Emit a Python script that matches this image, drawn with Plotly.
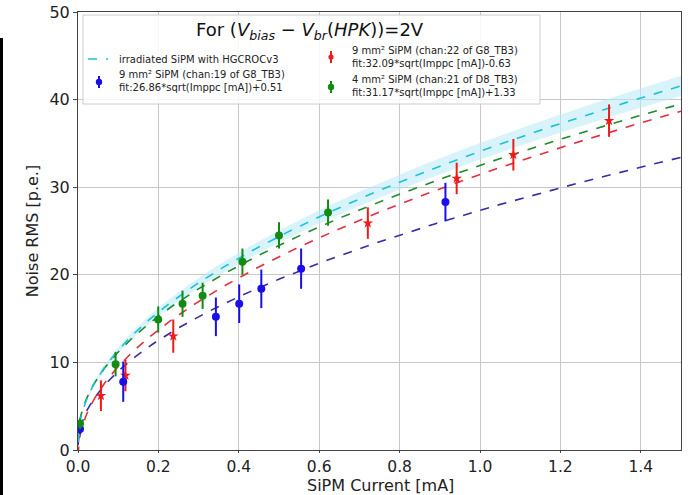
import numpy as np
import plotly.graph_objects as go

# ---- data ----
blue_x = [0.005, 0.1125, 0.343, 0.401, 0.456, 0.555, 0.914]
blue_y = [2.4, 7.8, 15.2, 16.7, 18.4, 20.7, 28.3]
blue_err = [0.6, 2.3, 2.2, 2.2, 2.2, 2.3, 2.2]

red_x = [0.057, 0.118, 0.237, 0.721, 0.942, 1.083, 1.321]
red_y = [6.2, 8.5, 13.0, 25.9, 31.0, 33.7, 37.6]
red_err = [1.75, 1.8, 1.9, 1.8, 1.8, 1.8, 1.85]

green_x = [0.005, 0.0935, 0.1995, 0.260, 0.310, 0.409, 0.500, 0.622]
green_y = [3.0, 9.8, 14.9, 16.7, 17.6, 21.5, 24.5, 27.1]
green_err = [0.6, 1.4, 1.5, 1.5, 1.5, 1.5, 1.5, 1.5]

# fit parameters a*sqrt(I)+b
fit_blue = [26.86, 0.51]
fit_red = [32.09, -0.63]
fit_green = [31.17, 1.33]
fit_cyan = [33.2, 0.9]
cyan_band = [0.85, 0.1]

x_ticks = [0, 0.2, 0.4, 0.6, 0.8, 1.0, 1.2, 1.4]
x_ticktext = ["0.0", "0.2", "0.4", "0.6", "0.8", "1.0", "1.2", "1.4"]
y_ticks = [0, 10, 20, 30, 40, 50]

legend_title = "For (<i>V</i><sub><i>bias</i></sub> − <i>V</i><sub><i>br</i></sub>(<i>HPK</i>))=2V"
names = [
    "irradiated SiPM with HGCROCv3",
    "9 mm² SiPM (chan:22 of G8_TB3)<br>fit:32.09*sqrt(Imppc [mA])-0.63",
    "9 mm² SiPM (chan:19 of G8_TB3)<br>fit:26.86*sqrt(Imppc [mA])+0.51",
    "4 mm² SiPM (chan:21 of D8_TB3)<br>fit:31.17*sqrt(Imppc [mA])+1.33",
]

C_CYAN = "#1cc3d8"
C_BLUE = "#1a0fe8"
C_BLUE_LINE = "#3a2aa8"
C_RED = "#f01a1a"
C_RED_LINE = "#e03040"
C_GREEN = "#138a13"
C_GREEN_LINE = "#1f8a2a"

# plot area geometry (pixels)
W, H = 692, 495
L, R, T, B = 78, 11, 12, 45
PW, PH = W - L - R, H - T - B

def px(x):
    return (x - L) / PW

def py(y):
    return (H - B - y) / PH

xs = np.linspace(0.0, 1.5, 400)

def fit(p, x):
    return p[0] * np.sqrt(x) + p[1]

fig = go.Figure()

cy = fit(fit_cyan, xs)
bw = cyan_band[0] * np.sqrt(xs) + cyan_band[1]
fig.add_trace(go.Scatter(x=np.concatenate([xs, xs[::-1]]),
                         y=np.concatenate([cy + bw, (cy - bw)[::-1]]),
                         fill="toself", fillcolor="rgba(185,234,248,0.55)",
                         line=dict(width=0), hoverinfo="skip", showlegend=False))

fig.add_trace(go.Scatter(x=xs, y=fit(fit_green, xs), mode="lines",
                         line=dict(color=C_GREEN_LINE, width=1.6, dash="dash"), showlegend=False))
fig.add_trace(go.Scatter(x=xs, y=fit(fit_red, xs), mode="lines",
                         line=dict(color=C_RED_LINE, width=1.6, dash="dash"), showlegend=False))
fig.add_trace(go.Scatter(x=xs, y=fit(fit_blue, xs), mode="lines",
                         line=dict(color=C_BLUE_LINE, width=1.6, dash="dash"), showlegend=False))
fig.add_trace(go.Scatter(x=xs, y=cy, mode="lines", name=names[0],
                         line=dict(color=C_CYAN, width=1.6, dash="dash"), showlegend=False))

fig.add_trace(go.Scatter(x=red_x, y=red_y, mode="markers", name=names[1], showlegend=False,
                         marker=dict(color=C_RED, size=8, symbol="star"),
                         error_y=dict(type="data", array=red_err, color=C_RED, thickness=2, width=0)))
fig.add_trace(go.Scatter(x=blue_x, y=blue_y, mode="markers", name=names[2], showlegend=False,
                         marker=dict(color=C_BLUE, size=8, symbol="circle"),
                         error_y=dict(type="data", array=blue_err, color=C_BLUE, thickness=2, width=0)))
fig.add_trace(go.Scatter(x=green_x, y=green_y, mode="markers", name=names[3], showlegend=False,
                         marker=dict(color=C_GREEN, size=8, symbol="circle"),
                         error_y=dict(type="data", array=green_err, color=C_GREEN, thickness=2, width=0)))

# ---- hand-built legend (matplotlib style, two columns) ----
shapes = []
annotations = []

# legend frame
shapes.append(dict(type="rect", xref="paper", yref="paper",
                   x0=px(83), x1=px(540), y0=py(104), y1=py(15),
                   fillcolor="rgba(255,255,255,0.85)", line=dict(color="#cccccc", width=1),
                   layer="above"))
annotations.append(dict(text=legend_title, xref="paper", yref="paper",
                        x=px(310), y=py(31), xanchor="center", yanchor="middle",
                        showarrow=False, font=dict(size=18, family="DejaVu Sans", color="#111")))

# cyan dashed line entry
shapes.append(dict(type="line", xref="paper", yref="paper",
                   x0=px(88), x1=px(108), y0=py(59), y1=py(59),
                   line=dict(color=C_CYAN, width=1.6, dash="dash"), layer="above"))

def marker_entry(cx, cyy, color, r=3.2, bar=6):
    shapes.append(dict(type="line", xref="paper", yref="paper",
                       x0=px(cx), x1=px(cx), y0=py(cyy - bar), y1=py(cyy + bar),
                       line=dict(color=color, width=2), layer="above"))
    shapes.append(dict(type="circle", xref="paper", yref="paper",
                       x0=px(cx - r), x1=px(cx + r), y0=py(cyy + r), y1=py(cyy - r),
                       fillcolor=color, line=dict(color=color, width=0), layer="above"))

marker_entry(331, 57, C_RED, r=2.6)
marker_entry(99, 82, C_BLUE)
marker_entry(331, 87, C_GREEN)

entry_pos = [(117, 59), (350, 56.5), (117, 81), (350, 86)]
for name, (ex, ey) in zip(names, entry_pos):
    annotations.append(dict(text=name, xref="paper", yref="paper",
                            x=px(ex), y=py(ey), xanchor="left", yanchor="middle", align="left",
                            showarrow=False, font=dict(size=10, family="DejaVu Sans", color="#222")))

# x-axis title placed like the reference
annotations.append(dict(text="SiPM Current [mA]", xref="paper", yref="paper",
                        x=px(380), y=py(485), xanchor="center", yanchor="middle",
                        showarrow=False, font=dict(size=16, family="DejaVu Sans", color="#222")))

# dark bar at the left edge of the picture
shapes.append(dict(type="rect", xref="paper", yref="paper", x0=px(0), x1=px(3),
                   y0=py(495), y1=py(38), fillcolor="black", line=dict(width=0), layer="above"))

fig.update_layout(
    width=W, height=H,
    margin=dict(l=L, r=R, t=T, b=B),
    plot_bgcolor="white", paper_bgcolor="white",
    font=dict(family="DejaVu Sans", color="#222"),
    showlegend=False,
    xaxis=dict(range=[0, 1.5], tickvals=x_ticks, ticktext=x_ticktext, automargin=False,
               showgrid=True, gridcolor="#c8c8c8", gridwidth=1, zeroline=False,
               showline=True, linecolor="#444", linewidth=1, mirror=True,
               ticks="outside", ticklen=2, tickcolor="#444",
               tickfont=dict(size=15.5)),
    yaxis=dict(range=[0, 50], tickvals=y_ticks, automargin=False,
               showgrid=True, gridcolor="#c8c8c8", gridwidth=1, zeroline=False,
               showline=True, linecolor="#444", linewidth=1, mirror=True,
               ticks="outside", ticklen=4, tickcolor="#444",
               tickfont=dict(size=16), title=dict(text="Noise RMS [p.e.]", font=dict(size=16), standoff=6)),
    shapes=shapes,
    annotations=annotations,
)

fig.write_html("out.html", config={"displayModeBar": False},
               post_script="document.body.style.margin='0px';")
